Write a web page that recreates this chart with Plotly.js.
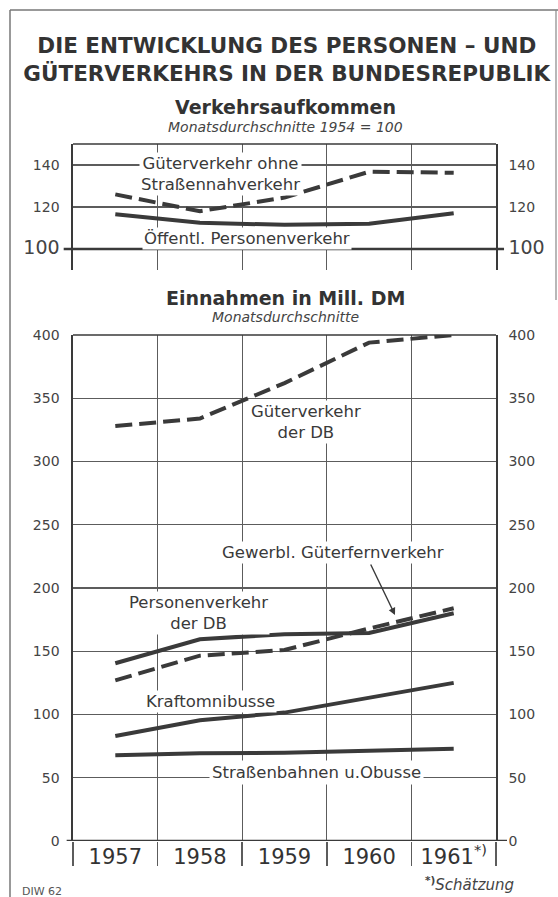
<!DOCTYPE html>
<html><head><meta charset="utf-8">
<script src="https://cdn.plot.ly/plotly-3.0.1.min.js"></script>
<style>html,body{margin:0;padding:0;background:#fff}#chart{width:558px;height:897px}</style>
</head><body><div id="chart"></div>
<script>
// Categories / tick labels
const years = [1957, 1958, 1959, 1960, 1961];
const yearLabels = ['1957', '1958', '1959', '1960', '1961<sup>*)</sup>'];
const topTicks = [100, 120, 140];
const topTickText = ['<span style="font-size:19px">100</span>', '120', '140'];
const bottomTicks = [0, 50, 100, 150, 200, 250, 300, 350, 400];

// Verkehrsaufkommen, Monatsdurchschnitte 1954 = 100
const gueterOhneNah = [126, 118, 124.5, 136.8, 136.3];
const oeffPersonen = [116.5, 112.5, 111.5, 112, 117];

// Einnahmen in Mill. DM, Monatsdurchschnitte
const gueterDB = [328, 334, 362, 394, 400];
const personenDB = [140.5, 159.5, 163.5, 164.5, 180];
const gewerblFern = [127, 146.5, 151, 168, 184];
const kraftomnibusse = [83, 95.5, 101.5, 113.5, 125];
const strassenbahnen = [67.7, 69.3, 69.8, 71, 73];

// year-column boundaries (half a year either side of each year)
const yearEdges = years.map(y => y - 0.5).concat([years[years.length - 1] + 0.5]);
const xRange = [yearEdges[0], yearEdges[yearEdges.length - 1]];

const ink = '#3a3a3a';
const grid = '#5c5c5c';
const fam = 'DejaVu Sans, sans-serif';
const dash = '17px,7px';

function tr(y, xa, ya, dashed, hidden) {
  return {x: years, y: y, xaxis: xa, yaxis: ya, type: 'scatter', mode: 'lines',
    line: {color: ink, width: 4, dash: dashed ? dash : 'solid'},
    opacity: hidden ? 0 : 1,
    hoverinfo: 'skip', showlegend: false};
}

const data = [
  tr(gueterOhneNah, 'x2', 'y3', true),
  tr(oeffPersonen, 'x2', 'y3', false),
  tr(gueterDB, 'x', 'y', true),
  tr(personenDB, 'x', 'y', false),
  tr(gewerblFern, 'x', 'y', true),
  tr(kraftomnibusse, 'x', 'y', false),
  tr(strassenbahnen, 'x', 'y', false),
  // invisible carriers for the right-hand axes
  tr(oeffPersonen, 'x2', 'y4', false, true),
  tr(strassenbahnen, 'x', 'y2', false, true)
];

const H = 897, W = 558;
const L = 73 / W, R = 496 / W;

const yCommon = {showgrid: true, gridcolor: grid, gridwidth: 1.2, showline: true,
  linecolor: ink, linewidth: 1.6, ticks: '', zeroline: false, fixedrange: true,
  tickfont: {size: 14, color: '#444', family: fam}};

const layout = {
  width: W, height: H,
  margin: {l: 0, r: 0, t: 0, b: 0},
  paper_bgcolor: '#ffffff', plot_bgcolor: 'rgba(0,0,0,0)',
  showlegend: false,
  font: {family: fam, color: ink},
  title: {
    text: 'DIE ENTWICKLUNG DES PERSONEN – UND<br>GÜTERVERKEHRS IN DER BUNDESREPUBLIK',
    font: {size: 21.5, family: fam, weight: 'bold', color: '#333'},
    x: 0.514, xanchor: 'center', y: 1 - 53 / H, yanchor: 'middle'
  },
  xaxis: {
    domain: [L, R], type: 'linear', anchor: 'y', range: xRange,
    tickmode: 'array', tickvals: years, ticktext: yearLabels,
    ticks: 'outside', ticklen: 24, tickwidth: 1, tickcolor: 'rgba(0,0,0,0)',
    showgrid: false, showline: false, zeroline: false, fixedrange: true,
    tickfont: {size: 21, color: '#333', family: fam},
    ticklabelstandoff: -27,
    minor: {tickmode: 'array', tickvals: yearEdges, ticks: 'outside', ticklen: 24, tickwidth: 1.5,
      tickcolor: grid, showgrid: true, gridcolor: grid, gridwidth: 1.3}
  },
  yaxis: Object.assign({}, yCommon, {
    domain: [(H - 841) / H, (H - 335) / H], range: [0, 400], anchor: 'x',
    tickvals: bottomTicks, ticklabelstandoff: 9
  }),
  yaxis2: Object.assign({}, yCommon, {
    overlaying: 'y', side: 'right', anchor: 'x', range: [0, 400],
    tickvals: bottomTicks, showgrid: false, ticklabelstandoff: 8
  }),
  xaxis2: {
    domain: [L, R], type: 'linear', anchor: 'y3', range: xRange,
    tickmode: 'array', tickvals: years, ticks: '', showticklabels: false, showgrid: false,
    showline: false, zeroline: false, fixedrange: true,
    minor: {tickmode: 'array', tickvals: yearEdges, ticks: '', showgrid: true, gridcolor: grid, gridwidth: 1.3}
  },
  yaxis3: Object.assign({}, yCommon, {
    domain: [(H - 270) / H, (H - 144) / H], range: [90, 150], anchor: 'x2',
    tickvals: topTicks, ticktext: topTickText, ticklabelstandoff: 9
  }),
  yaxis4: Object.assign({}, yCommon, {
    overlaying: 'y3', side: 'right', anchor: 'x2', range: [90, 150],
    tickvals: topTicks, ticktext: topTickText, showgrid: false, ticklabelstandoff: 8
  }),
  shapes: [
    {type: 'line', xref: 'x2 domain', yref: 'y3 domain', x0: 0, x1: 1, y0: 1, y1: 1, line: {color: ink, width: 1.6}},
    {type: 'line', xref: 'x2 domain', yref: 'y3', x0: -0.022, x1: 1.019, y0: 100, y1: 100, line: {color: ink, width: 2.4}},
    {type: 'line', xref: 'x domain', yref: 'y domain', x0: 0, x1: 1, y0: 1, y1: 1, line: {color: ink, width: 1.6}},
    {type: 'line', xref: 'x domain', yref: 'y', x0: -0.015, x1: 1.026, y0: 0, y1: 0, line: {color: ink, width: 2.6}},
    {type: 'line', xref: 'paper', yref: 'paper', x0: 10 / W, x1: 10 / W, y0: 0, y1: 1 - 10 / H, line: {color: '#777', width: 1.5}},
    {type: 'line', xref: 'paper', yref: 'paper', x0: 10 / W, x1: 1, y0: 1 - 10 / H, y1: 1 - 10 / H, line: {color: '#777', width: 1.5}},
    {type: 'line', xref: 'paper', yref: 'paper', x0: 556 / W, x1: 556 / W, y0: 1 - 300 / H, y1: 1 - 10 / H, line: {color: '#888', width: 1.2}}
  ],
  annotations: [
    {xref: 'paper', yref: 'paper', x: 285 / W, y: 1 - 107 / H, text: '<b>Verkehrsaufkommen</b>', showarrow: false, xanchor: 'center', yanchor: 'middle', font: {size: 19, color: '#333'}},
    {xref: 'paper', yref: 'paper', x: 285 / W, y: 1 - 127 / H, text: '<i>Monatsdurchschnitte 1954 = 100</i>', showarrow: false, xanchor: 'center', yanchor: 'middle', font: {size: 14, color: '#444'}},
    {xref: 'paper', yref: 'paper', x: 285 / W, y: 1 - 298 / H, text: '<b>Einnahmen in Mill. DM</b>', showarrow: false, xanchor: 'center', yanchor: 'middle', font: {size: 19, color: '#333'}},
    {xref: 'paper', yref: 'paper', x: 285 / W, y: 1 - 317 / H, text: '<i>Monatsdurchschnitte</i>', showarrow: false, xanchor: 'center', yanchor: 'middle', font: {size: 14, color: '#444'}},

    {xref: 'x2', yref: 'y3', x: 1958.24, y: 135.5, text: 'Güterverkehr ohne<br>Straßennahverkehr', showarrow: false, bgcolor: '#ffffff', borderpad: 1, font: {size: 16.5, color: ink}},
    {xref: 'x2', yref: 'y3', x: 1958.56, y: 104.8, text: 'Öffentl. Personenverkehr', showarrow: false, bgcolor: '#ffffff', borderpad: 1, font: {size: 16.5, color: ink}},

    {xref: 'x', yref: 'y', x: 1959.25, y: 331, text: 'Güterverkehr<br>der DB', showarrow: false, bgcolor: '#ffffff', borderpad: 1, font: {size: 16.5, color: ink}},
    {xref: 'x', yref: 'y', x: 1959.57, y: 227.7, text: 'Gewerbl. Güterfernverkehr', showarrow: false, bgcolor: '#ffffff', borderpad: 1, font: {size: 16.5, color: ink}},
    {xref: 'x', yref: 'y', x: 1960.306, y: 178.7, text: '', showarrow: true, ax: -25, ay: -52, arrowhead: 2, arrowsize: 1, arrowwidth: 1.4, arrowcolor: ink},
    {xref: 'x', yref: 'y', x: 1957.98, y: 180.6, text: 'Personenverkehr<br>der DB', showarrow: false, bgcolor: '#ffffff', borderpad: 1, font: {size: 16.5, color: ink}},
    {xref: 'x', yref: 'y', x: 1958.13, y: 109.9, text: 'Kraftomnibusse', showarrow: false, bgcolor: '#ffffff', borderpad: 1, font: {size: 16.5, color: ink}},
    {xref: 'x', yref: 'y', x: 1959.38, y: 54.5, text: 'Straßenbahnen u.Obusse', showarrow: false, bgcolor: '#ffffff', borderpad: 2, font: {size: 16.5, color: ink}},

    {xref: 'paper', yref: 'paper', x: 20 / W, y: 1 - 891 / H, text: 'DIW 62', showarrow: false, xanchor: 'left', yanchor: 'middle', font: {size: 11, color: '#555'}},
    {xref: 'paper', yref: 'paper', x: 423 / W, y: 1 - 884 / H, text: '<sup><b>*)</b></sup><i>Schätzung</i>', showarrow: false, xanchor: 'left', yanchor: 'middle', font: {size: 15, color: '#444'}}
  ]
};

Plotly.newPlot('chart', data, layout, {staticPlot: true, displayModeBar: false});
</script>
</body></html>
